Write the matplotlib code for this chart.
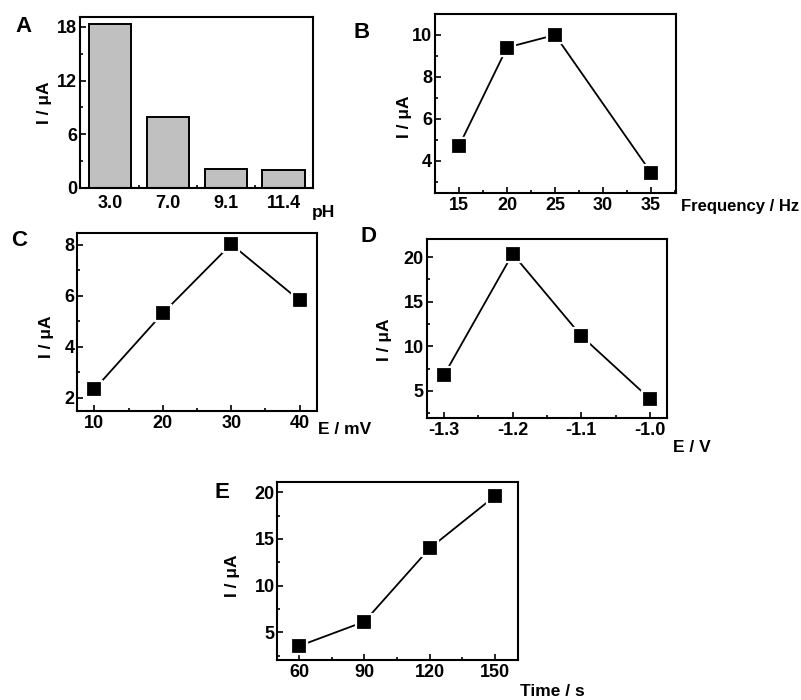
import matplotlib
matplotlib.use("Agg")
import matplotlib.pyplot as plt
from matplotlib.ticker import MultipleLocator, FixedLocator

plt.rcParams['font.family'] = ['Liberation Sans', 'DejaVu Sans']
plt.rcParams['font.weight'] = 'bold'

# A: pH
ph_labels = ["3.0", "7.0", "9.1", "11.4"]
ph_current = [18.3, 7.9, 2.1, 2.0]

# B: frequency
freq = [15, 20, 25, 35]
freq_current = [4.7, 9.4, 10.0, 3.43]

# C: amplitude
amp = [10, 20, 30, 40]
amp_current = [2.33, 5.32, 8.03, 5.82]

# D: deposition potential
pot = [-1.3, -1.2, -1.1, -1.0]
pot_current = [6.76, 20.37, 11.17, 4.1]

# E: deposition time
dep_time = [60, 90, 120, 150]
time_current = [3.53, 6.14, 14.0, 19.6]

W, H = 801, 700
fig = plt.figure(figsize=(W / 100, H / 100), dpi=100)


def box(l, r, t, b):
    return fig.add_axes([l / W, (H - b) / H, (r - l) / W, (b - t) / H])


def ftext(x, y, s, **kw):
    fig.text(x / W, (H - y) / H, s, fontweight='bold', **kw)


def style(ax):
    for sp in ax.spines.values():
        sp.set_linewidth(1.5)
    ax.tick_params(which='both', direction='in', labelsize=13, width=1.2)
    ax.tick_params(which='major', length=4, pad=3)
    ax.tick_params(which='minor', length=2.5)
    ax.tick_params(axis='y', pad=2)
    for lab in ax.get_xticklabels() + ax.get_yticklabels():
        lab.set_fontweight('bold')


def line(ax, x, y):
    ax.plot(x, y, color='black', lw=1.3, marker='s', ms=11.5,
            mfc='black', mec='white', mew=1.6)


# panel A
ax = box(80, 313, 17, 188)
pos = list(range(len(ph_labels)))
ax.bar(pos, ph_current, width=0.73, color='#c0c0c0', edgecolor='black', lw=1.4)
ax.set_xlim(-0.52, 3.51)
ax.set_ylim(0, 19.1)
ax.set_xticks(pos)
ax.set_xticklabels(ph_labels)
ax.xaxis.set_minor_locator(FixedLocator([0.5, 1.5, 2.5]))
ax.yaxis.set_major_locator(MultipleLocator(6))
ax.yaxis.set_minor_locator(MultipleLocator(3))
style(ax)
ax.tick_params(axis='x', which='major', length=0, pad=5)

# panel B
ax = box(435, 676, 14, 192.7)
line(ax, freq, freq_current)
ax.set_xlim(12.5, 37.6)
ax.set_ylim(2.47, 11.0)
ax.xaxis.set_major_locator(MultipleLocator(5))
ax.xaxis.set_minor_locator(MultipleLocator(2.5))
ax.yaxis.set_major_locator(MultipleLocator(2))
ax.yaxis.set_minor_locator(MultipleLocator(1))
style(ax)

# panel C
ax = box(77.3, 316.7, 232.7, 410.7)
line(ax, amp, amp_current)
ax.set_xlim(7.5, 42.5)
ax.set_ylim(1.49, 8.48)
ax.xaxis.set_major_locator(MultipleLocator(10))
ax.xaxis.set_minor_locator(MultipleLocator(5))
ax.yaxis.set_major_locator(MultipleLocator(2))
ax.yaxis.set_minor_locator(MultipleLocator(1))
style(ax)

# panel D
ax = box(426.7, 667.3, 239.3, 418.3)
line(ax, pot, pot_current)
ax.set_xlim(-1.325, -0.975)
ax.set_ylim(1.94, 22.0)
ax.xaxis.set_major_locator(MultipleLocator(0.1))
ax.xaxis.set_minor_locator(MultipleLocator(0.05))
ax.yaxis.set_major_locator(MultipleLocator(5))
ax.yaxis.set_minor_locator(MultipleLocator(2.5))
ax.xaxis.set_major_formatter(plt.FuncFormatter(lambda v, p: f"{v:.1f}"))
style(ax)

# panel E
ax = box(277.3, 518.3, 482.3, 660)
line(ax, dep_time, time_current)
ax.set_xlim(50, 160.7)
ax.set_ylim(2.03, 21.07)
ax.xaxis.set_major_locator(MultipleLocator(30))
ax.xaxis.set_minor_locator(MultipleLocator(15))
ax.yaxis.set_major_locator(MultipleLocator(5))
ax.yaxis.set_minor_locator(MultipleLocator(2.5))
style(ax)

# axis labels
ylab = "I / μA"
for x, y in [(45, 103), (405, 117), (46, 337), (384, 340), (232, 576)]:
    ftext(x, y, ylab, rotation=90, ha='center', va='center', fontsize=12.5)

ftext(312, 212, "pH", ha='left', va='center', fontsize=12.5)
ftext(799, 207, "Frequency / Hz", ha='right', va='center', fontsize=12)
ftext(318, 429, "E / mV", ha='left', va='center', fontsize=12.5)
ftext(673, 448, "E / V", ha='left', va='center', fontsize=12.5)
ftext(520, 692, "Time / s", ha='left', va='center', fontsize=12.5)

# panel letters
for s, x, y in [("A", 24, 27), ("B", 362, 33), ("C", 19, 240), ("D", 369, 236), ("E", 222, 493)]:
    ftext(x, y, s, ha='center', va='center', fontsize=16)

fig.savefig("out.png", dpi=100)
